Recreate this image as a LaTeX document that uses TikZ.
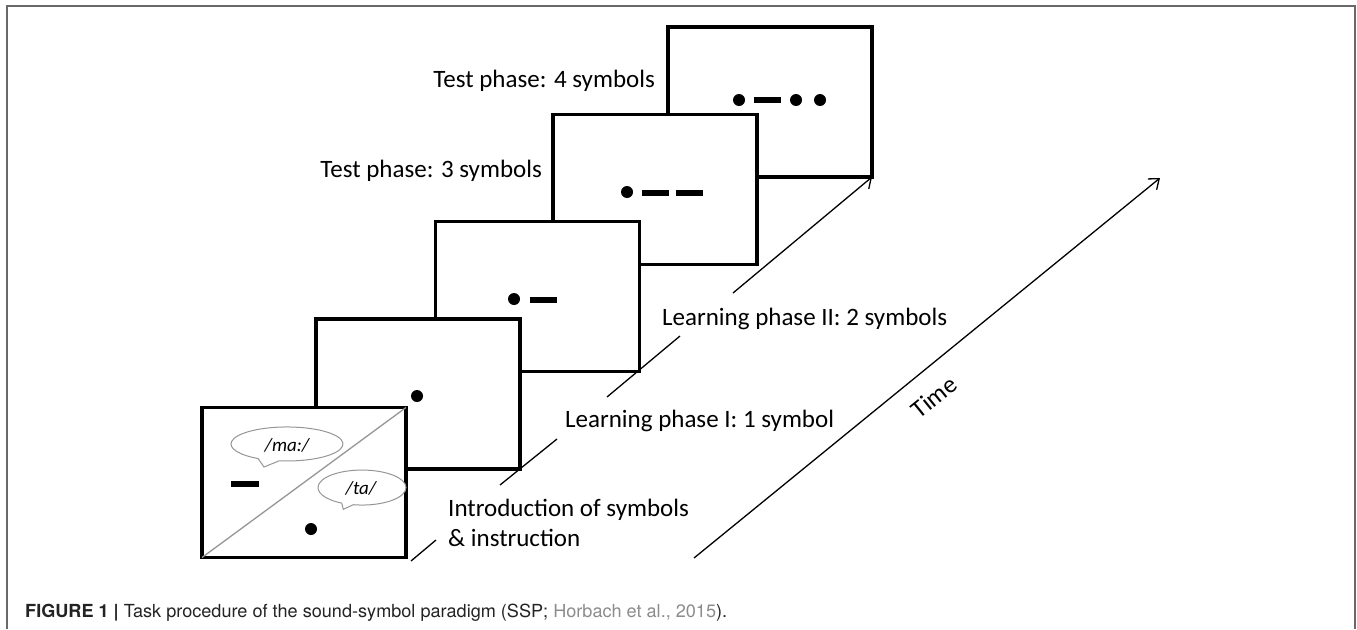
\documentclass[tikz,border=0pt]{standalone}
\usepackage{fontspec}
\usepackage{graphicx}
\setmainfont{Carlito}
\newfontfamily\capfont{TeX Gyre Heros}
\usetikzlibrary{arrows.meta}
\definecolor{framegray}{RGB}{105,105,105}
\definecolor{bubblegray}{RGB}{150,150,150}
\definecolor{citegray}{RGB}{140,140,140}
\definecolor{captext}{RGB}{35,35,35}
\tikzset{
	screen/.style={draw,line width=3.2pt,fill=white,minimum width=204pt,minimum height=150pt,inner sep=0pt,outer sep=0pt},
	phase/.style={font=\fontsize{25}{30}\selectfont,inner sep=0pt},
	sound/.style={font=\fontsize{19}{22}\selectfont\itshape,inner sep=0pt},
	bubble/.style={draw=bubblegray,line width=1pt,fill=white},
	tick/.style={line width=1.3pt},
	timearrow/.style={line width=1.3pt,-{Straight Barb[length=9pt,width=14pt,line width=1.3pt]}},
	bar/.style={line width=6pt}
}
\begin{document}
\begin{tikzpicture}[x=1pt,y=-1pt]
		\useasboundingbox(0,0)rectangle(1357,629);
		\draw[framegray,line width=1.5pt](7,629)--(7,6)--(1355,6)--(1355,629);
		% screens, back to front
		\foreach\n/\cx/\cy in{5/770/102,4/655/189.5,3/537.5/296.5,2/418/394,1/304/482.5}{\node[screen](F\n)at(\cx,\cy){};}
		\draw[bubblegray,line width=1.3pt](F1.south west)--(F1.north east);
		% symbols
		\foreach\p in{(311,529),(417,396),(514,299),(627,192),(739,100),(796,100),(820,100)}{\fill\p circle(6pt);}
		\foreach\a/\b/\y in{231/259/484,530/557/300,642/669/193,676/703/193,754/781/100}{\draw[bar](\a,\y)--(\b,\y);}
		% speech bubbles
		\draw[bubble](279.2,460.8)arc[start angle=98,end angle=-239,x radius=56,y radius=17]--(264,467)--cycle;
		\draw[bubble](353.3,504.7)arc[start angle=101.4,end angle=-242.5,x radius=44,y radius=17.5]--(343.3,509.3)--cycle;
		\node[sound](S1)at(287,445){/ma:/};
		\node[sound](S2)at(361,488){/ta/};
		% time lines
		\coordinate(T1a)at(411,561);
		\coordinate(T1b)at(436,540);
		\coordinate(T2a)at(500,485);
		\coordinate(T2b)at(557,439);
		\coordinate(T3a)at(607,397);
		\coordinate(T3b)at(680,336);
		\coordinate(T4a)at(733,293);
		\coordinate(T4b)at(872,177);
		\coordinate(Ta)at(694,558);
		\coordinate(Tb)at(1160,178);
		\foreach\a/\b in{T1a/T1b,T2a/T2b,T3a/T3b}{\draw[tick](\a)--(\b);}
		\draw[timearrow](T4a)--(T4b);
		\draw[timearrow](Ta)--(Tb);
		% phase labels
		\node[phase,anchor=base east](P5)at(655,87){Test phase: 4 symbols};
		\node[phase,anchor=base east](P4)at(542,177){Test phase: 3 symbols};
		\node[phase,anchor=base west](P3)at(662,325){Learning phase II: 2 symbols};
		\node[phase,anchor=base west](P2)at(565,427){Learning phase I: 1 symbol};
		\node[phase,anchor=base west,align=left](P1)at(448,546){Introduction of symbols\\\& instruction};
		\node[phase,rotate=39](time)at(934,397){Time};
		% caption
		\node[anchor=base west,inner sep=0pt,text=captext](cap)at(25,617){\resizebox{702pt}{\height}{\capfont\fontsize{18}{21}\selectfont\textbf{FIGURE 1 |} Task procedure of the sound-symbol paradigm (SSP; \textcolor{citegray}{Horbach et al., 2015}).}};
		\end{tikzpicture}
\end{document}
